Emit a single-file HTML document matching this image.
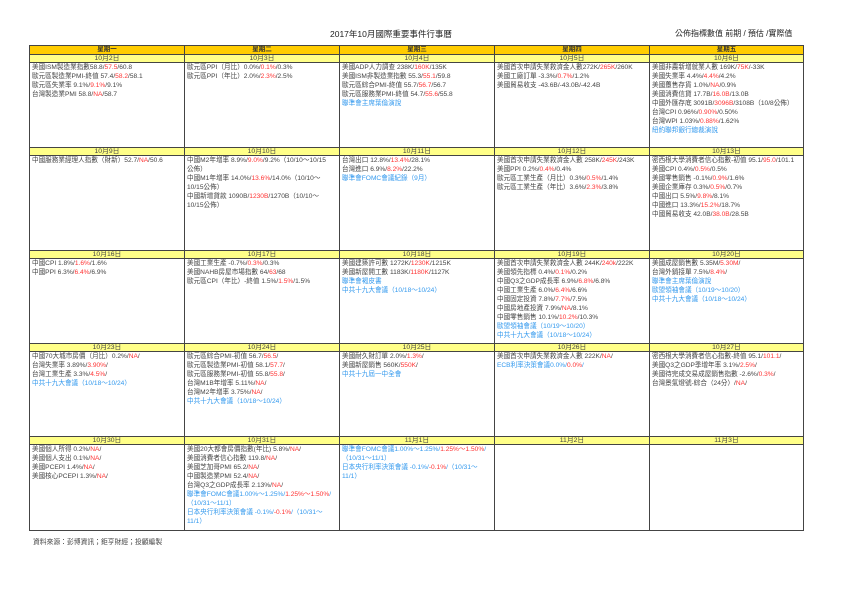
<!DOCTYPE html>
<html><head><meta charset="utf-8"><style>
body{margin:0;width:842px;height:595px;background:#fff;position:relative;font-family:"Liberation Sans","Noto Sans CJK TC",sans-serif;color:#444;overflow:hidden}
.a{position:absolute;box-sizing:border-box}
.h{background:#FFCC00;border:1px solid #444;font-size:6.5px;font-weight:bold;text-align:center;line-height:8px;height:10px;color:#333}
.d{background:#FFFF88;border:1px solid #444;font-size:6.8px;text-align:center;line-height:7px;height:9px}
.c{border:1px solid #444;font-size:6.6px;line-height:9px;padding:0 2px;white-space:nowrap;overflow:hidden}
.r{color:#FF3333}.b{color:#3399EE}
</style></head><body>
<div class="a" style="left:330px;top:28px;font-size:8.5px;color:#222">2017年10月國際重要事件行事曆</div>
<div class="a" style="left:675px;top:28px;font-size:8px;color:#222">公佈指標數值 前期 / 預估 /實際值</div>

<div class="a h" style="left:29px;top:45px;width:156px">星期一</div>
<div class="a h" style="left:184px;top:45px;width:156px">星期二</div>
<div class="a h" style="left:339px;top:45px;width:156px">星期三</div>
<div class="a h" style="left:494px;top:45px;width:156px">星期四</div>
<div class="a h" style="left:649px;top:45px;width:155px">星期五</div>

<div class="a d" style="left:29px;top:54px;width:156px">10月2日</div>
<div class="a d" style="left:184px;top:54px;width:156px">10月3日</div>
<div class="a d" style="left:339px;top:54px;width:156px">10月4日</div>
<div class="a d" style="left:494px;top:54px;width:156px">10月5日</div>
<div class="a d" style="left:649px;top:54px;width:155px">10月6日</div>
<div class="a c" style="left:29px;top:62px;width:156px;height:86px">美國ISM製造業指數58.8/<span class="r">57.5</span>/60.8<br>歐元區製造業PMI-終值 57.4/<span class="r">58.2</span>/58.1<br>歐元區失業率 9.1%/<span class="r">9.1%</span>/9.1%<br>台灣製造業PMI 58.8/<span class="r">NA</span>/58.7</div>
<div class="a c" style="left:184px;top:62px;width:156px;height:86px">歐元區PPI（月比）0.0%/<span class="r">0.1%</span>/0.3%<br>歐元區PPI（年比）2.0%/<span class="r">2.3%</span>/2.5%</div>
<div class="a c" style="left:339px;top:62px;width:156px;height:86px">美國ADP人力調查 238K/<span class="r">160K</span>/135K<br>美國ISM非製造業指數 55.3/<span class="r">55.1</span>/59.8<br>歐元區綜合PMI-終值 55.7/<span class="r">56.7</span>/56.7<br>歐元區服務業PMI-終值 54.7/<span class="r">55.6</span>/55.8<br><span class="b">聯準會主席葉倫演說</span></div>
<div class="a c" style="left:494px;top:62px;width:156px;height:86px">美國首次申請失業救濟金人數272K/<span class="r">265K</span>/260K<br>美國工廠訂單 -3.3%/<span class="r">0.7%</span>/1.2%<br>美國貿易收支 -43.6B/-43.0B/-42.4B</div>
<div class="a c" style="left:649px;top:62px;width:155px;height:86px">美國非農新增就業人數 169K/<span class="r">75K</span>/-33K<br>美國失業率 4.4%/<span class="r">4.4%</span>/4.2%<br>美國躉售存貨 1.0%/<span class="r">NA</span>/0.9%<br>美國消費信貸 17.7B/<span class="r">16.0B</span>/13.0B<br>中國外匯存底 3091B/<span class="r">3096B</span>/3108B（10/8公佈）<br>台灣CPI 0.96%/<span class="r">0.90%</span>/0.50%<br>台灣WPI 1.03%/<span class="r">0.88%</span>/1.62%<br><span class="b">紐約聯邦銀行總裁演說</span></div>

<div class="a d" style="left:29px;top:147px;width:156px">10月9日</div>
<div class="a d" style="left:184px;top:147px;width:156px">10月10日</div>
<div class="a d" style="left:339px;top:147px;width:156px">10月11日</div>
<div class="a d" style="left:494px;top:147px;width:156px">10月12日</div>
<div class="a d" style="left:649px;top:147px;width:155px">10月13日</div>
<div class="a c" style="left:29px;top:155px;width:156px;height:96px">中國服務業經理人指數（財新）52.7/<span class="r">NA</span>/50.6</div>
<div class="a c" style="left:184px;top:155px;width:156px;height:96px">中國M2年增率 8.9%/<span class="r">9.0%</span>/9.2%（10/10～10/15<br>公佈）<br>中國M1年增率 14.0%/<span class="r">13.6%</span>/14.0%（10/10～<br>10/15公佈）<br>中國新增貸款 1090B/<span class="r">1230B</span>/1270B（10/10～<br>10/15公佈）</div>
<div class="a c" style="left:339px;top:155px;width:156px;height:96px">台灣出口 12.8%/<span class="r">13.4%</span>/28.1%<br>台灣進口 6.9%/<span class="r">8.2%</span>/22.2%<br><span class="b">聯準會FOMC會議紀錄（9月）</span></div>
<div class="a c" style="left:494px;top:155px;width:156px;height:96px">美國首次申請失業救濟金人數 258K/<span class="r">245K</span>/243K<br>美國PPI 0.2%/<span class="r">0.4%</span>/0.4%<br>歐元區工業生產（月比）0.3%/<span class="r">0.5%</span>/1.4%<br>歐元區工業生產（年比）3.6%/<span class="r">2.3%</span>/3.8%</div>
<div class="a c" style="left:649px;top:155px;width:155px;height:96px">密西根大學消費者信心指數-初值 95.1/<span class="r">95.0</span>/101.1<br>美國CPI 0.4%/<span class="r">0.5%</span>/0.5%<br>美國零售銷售 -0.1%/<span class="r">0.9%</span>/1.6%<br>美國企業庫存 0.3%/<span class="r">0.5%</span>/0.7%<br>中國出口 5.5%/<span class="r">9.8%</span>/8.1%<br>中國進口 13.3%/<span class="r">15.2%</span>/18.7%<br>中國貿易收支 42.0B/<span class="r">38.0B</span>/28.5B</div>

<div class="a d" style="left:29px;top:250px;width:156px">10月16日</div>
<div class="a d" style="left:184px;top:250px;width:156px">10月17日</div>
<div class="a d" style="left:339px;top:250px;width:156px">10月18日</div>
<div class="a d" style="left:494px;top:250px;width:156px">10月19日</div>
<div class="a d" style="left:649px;top:250px;width:155px">10月20日</div>
<div class="a c" style="left:29px;top:258px;width:156px;height:86px">中國CPI 1.8%/<span class="r">1.6%</span>/1.6%<br>中國PPI 6.3%/<span class="r">6.4%</span>/6.9%</div>
<div class="a c" style="left:184px;top:258px;width:156px;height:86px">美國工業生產 -0.7%/<span class="r">0.3%</span>/0.3%<br>美國NAHB房屋市場指數 64/<span class="r">63</span>/68<br>歐元區CPI（年比）-終值 1.5%/<span class="r">1.5%</span>/1.5%</div>
<div class="a c" style="left:339px;top:258px;width:156px;height:86px">美國建築許可數 1272K/<span class="r">1230K</span>/1215K<br>美國新屋開工數 1183K/<span class="r">1180K</span>/1127K<br><span class="b">聯準會褐皮書</span><br><span class="b">中共十九大會議（10/18～10/24）</span></div>
<div class="a c" style="left:494px;top:258px;width:156px;height:86px">美國首次申請失業救濟金人數 244K/<span class="r">240k</span>/222K<br>美國領先指標 0.4%/<span class="r">0.1%</span>/0.2%<br>中國Q3之GDP成長率 6.9%/<span class="r">6.8%</span>/6.8%<br>中國工業生產 6.0%/<span class="r">6.4%</span>/6.6%<br>中國固定投資 7.8%/<span class="r">7.7%</span>/7.5%<br>中國房地產投資 7.9%/<span class="r">NA</span>/8.1%<br>中國零售銷售 10.1%/<span class="r">10.2%</span>/10.3%<br><span class="b">歐盟領袖會議（10/19～10/20）</span><br><span class="b">中共十九大會議（10/18～10/24）</span></div>
<div class="a c" style="left:649px;top:258px;width:155px;height:86px">美國成屋銷售數 5.35M/<span class="r">5.30M</span>/<br>台灣外銷接單 7.5%/<span class="r">8.4%</span>/<br><span class="b">聯準會主席葉倫演說</span><br><span class="b">歐盟領袖會議（10/19～10/20）</span><br><span class="b">中共十九大會議（10/18～10/24）</span></div>

<div class="a d" style="left:29px;top:343px;width:156px">10月23日</div>
<div class="a d" style="left:184px;top:343px;width:156px">10月24日</div>
<div class="a d" style="left:339px;top:343px;width:156px">10月25日</div>
<div class="a d" style="left:494px;top:343px;width:156px">10月26日</div>
<div class="a d" style="left:649px;top:343px;width:155px">10月27日</div>
<div class="a c" style="left:29px;top:351px;width:156px;height:86px">中國70大城市房價（月比）0.2%/<span class="r">NA</span>/<br>台灣失業率 3.89%/<span class="r">3.90%</span>/<br>台灣工業生產 3.3%/<span class="r">4.5%</span>/<br><span class="b">中共十九大會議（10/18～10/24）</span></div>
<div class="a c" style="left:184px;top:351px;width:156px;height:86px">歐元區綜合PMI-初值 56.7/<span class="r">56.5</span>/<br>歐元區製造業PMI-初值 58.1/<span class="r">57.7</span>/<br>歐元區服務業PMI-初值 55.8/<span class="r">55.8</span>/<br>台灣M1B年增率 5.11%/<span class="r">NA</span>/<br>台灣M2年增率 3.75%/<span class="r">NA</span>/<br><span class="b">中共十九大會議（10/18～10/24）</span></div>
<div class="a c" style="left:339px;top:351px;width:156px;height:86px">美國耐久財訂單 2.0%/<span class="r">1.3%</span>/<br>美國新屋銷售 560K/<span class="r">550K</span>/<br><span class="b">中共十九屆一中全會</span></div>
<div class="a c" style="left:494px;top:351px;width:156px;height:86px">美國首次申請失業救濟金人數 222K/<span class="r">NA</span>/<br><span class="b">ECB利率決策會議0.0%/</span><span class="r">0.0%</span><span class="b">/</span></div>
<div class="a c" style="left:649px;top:351px;width:155px;height:86px">密西根大學消費者信心指數-終值 95.1/<span class="r">101.1</span>/<br>美國Q3之GDP季增年率 3.1%/<span class="r">2.5%</span>/<br>美國待完成交易成屋銷售指數 -2.6%/<span class="r">0.3%</span>/<br>台灣景氣燈號-綜合（24分）/<span class="r">NA</span>/</div>

<div class="a d" style="left:29px;top:436px;width:156px">10月30日</div>
<div class="a d" style="left:184px;top:436px;width:156px">10月31日</div>
<div class="a d" style="left:339px;top:436px;width:156px">11月1日</div>
<div class="a d" style="left:494px;top:436px;width:156px">11月2日</div>
<div class="a d" style="left:649px;top:436px;width:155px">11月3日</div>
<div class="a c" style="left:29px;top:444px;width:156px;height:87px">美國個人所得 0.2%/<span class="r">NA</span>/<br>美國個人支出 0.1%/<span class="r">NA</span>/<br>美國PCEPI 1.4%/<span class="r">NA</span>/<br>美國核心PCEPI 1.3%/<span class="r">NA</span>/</div>
<div class="a c" style="left:184px;top:444px;width:156px;height:87px">美國20大都會房價指數(年比) 5.8%/<span class="r">NA</span>/<br>美國消費者信心指數 119.8/<span class="r">NA</span>/<br>美國芝加哥PMI 65.2/<span class="r">NA</span>/<br>中國製造業PMI 52.4/<span class="r">NA</span>/<br>台灣Q3之GDP成長率 2.13%/<span class="r">NA</span>/<br><span class="b">聯準會FOMC會議1.00%～1.25%/</span><span class="r">1.25%～1.50%</span><span class="b">/<br>（10/31～11/1）</span><br><span class="b">日本央行利率決策會議 -0.1%/</span><span class="r">-0.1%</span><span class="b">/（10/31～<br>11/1）</span></div>
<div class="a c" style="left:339px;top:444px;width:156px;height:87px"><span class="b">聯準會FOMC會議1.00%～1.25%/</span><span class="r">1.25%～1.50%</span><span class="b">/<br>（10/31～11/1）</span><br><span class="b">日本央行利率決策會議 -0.1%/</span><span class="r">-0.1%</span><span class="b">/（10/31～<br>11/1）</span></div>
<div class="a c" style="left:494px;top:444px;width:156px;height:87px"></div>
<div class="a c" style="left:649px;top:444px;width:155px;height:87px"></div>

<div class="a" style="left:33px;top:536px;font-size:6.8px">資料來源：彭博資訊；鉅亨財經；投顧編製</div>
</body></html>
